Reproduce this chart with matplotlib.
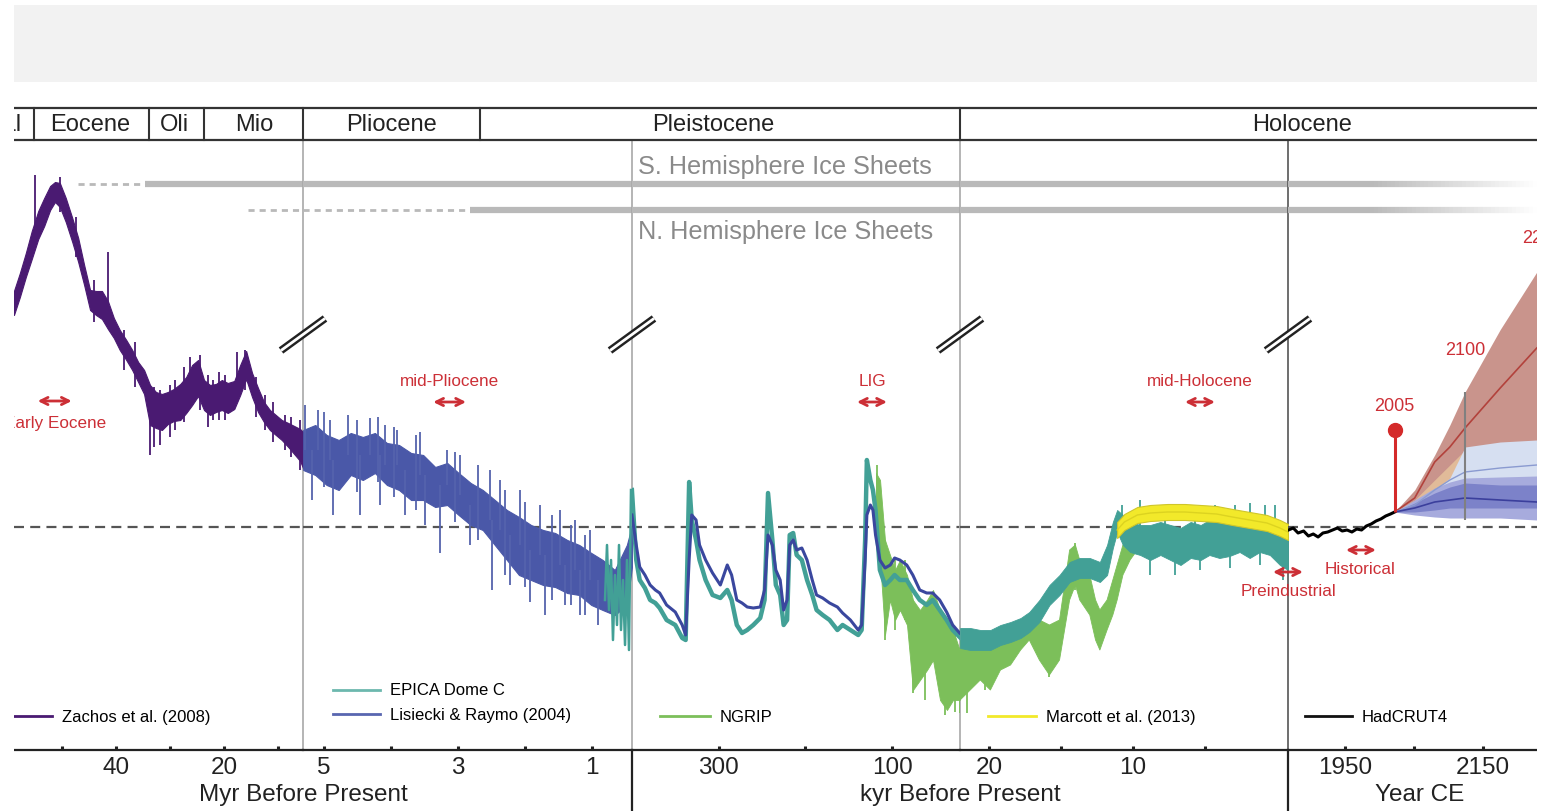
import numpy as np
import matplotlib
matplotlib.use("Agg")
import matplotlib.pyplot as plt
import matplotlib.transforms as mtransforms
from matplotlib.lines import Line2D
from matplotlib.patches import Rectangle
from matplotlib.collections import LineCollection

plt.rcParams['font.family'] = ['Liberation Sans', 'DejaVu Sans']

# ---------------- data (temperature anomaly, deg C) ----------------
# Zachos et al. (2008), Myr BP
zachos_age = [58.9, 57.8, 56.7, 55.6, 54.4, 53.3, 52.2, 51.3, 50.4, 49.3, 48.1, 47.0, 45.9, 44.8, 43.7,
              42.6, 41.5, 40.4, 39.3, 38.1, 37.0, 35.9, 34.8, 33.7, 32.6, 31.5, 30.4, 29.3, 28.1, 27.0,
              25.9, 24.8, 23.7, 22.6, 21.5, 20.4, 19.3, 18.1, 17.0, 15.9, 14.8, 13.7, 12.6, 11.5, 10.4,
              9.3, 8.1, 7.0, 5.9, 5.37]
zachos_hi = [9.44, 10.16, 10.96, 11.84, 12.64, 13.16, 13.64, 13.8, 13.76, 13.16, 12.36, 11.56, 10.48, 9.48,
             9.44, 9.44, 9.04, 8.36, 7.88, 7.48, 7.08, 6.6, 6.28, 5.68, 5.4, 5.32, 5.4, 5.52, 5.72, 6.0,
             6.48, 6.68, 5.88, 5.68, 5.72, 5.88, 5.76, 5.84, 6.48, 7.04, 6.16, 5.56, 5.0, 4.68, 4.48,
             4.28, 4.16, 4.04, 3.92, 3.8]
zachos_lo = [8.48, 9.2, 10.0, 10.72, 11.52, 12.04, 12.68, 13.0, 12.8, 12.2, 11.4, 10.6, 9.68, 8.68, 8.48,
             8.32, 7.92, 7.56, 7.08, 6.68, 6.28, 5.8, 5.32, 4.08, 3.96, 3.88, 4.12, 4.24, 4.28, 4.56,
             4.88, 5.24, 4.68, 4.48, 4.6, 4.68, 4.56, 4.72, 5.28, 5.92, 5.2, 4.6, 4.2, 3.88, 3.68,
             3.48, 3.2, 2.92, 2.64, 2.36]
zachos_sp_age = [55.0, 41.5, 33.7, 31.9, 29.1, 26.3, 24.4, 22.0, 19.8, 16.1, 12.4, 8.7, 5.9,
                 50.4, 47.5, 44.0, 38.5, 36.5, 33.0, 30.0, 27.5, 23.0, 21.0, 17.5, 14.0, 11.0, 7.5]
zachos_sp_top = [14.08, 11.0, 5.68, 5.48, 5.88, 6.8, 6.88, 5.88, 6.08, 7.08, 5.28, 4.48, 4.28,
                 14.0, 12.4, 9.9, 7.9, 7.4, 5.6, 5.7, 6.4, 6.1, 6.2, 7.0, 6.0, 5.0, 4.4]
zachos_sp_bot = [11.48, 8.68, 2.88, 3.28, 3.88, 4.88, 4.68, 4.28, 4.28, 5.48, 3.88, 3.08, 2.28,
                 12.6, 10.8, 8.2, 6.3, 5.6, 3.2, 3.6, 4.2, 4.0, 4.3, 5.0, 4.4, 3.4, 2.8]

# Lisiecki & Raymo (2004), Myr BP (band) and kyr BP (line)
lr_age = [5.31, 5.13, 4.96, 4.78, 4.60, 4.42, 4.24, 4.06, 3.88, 3.70, 3.52, 3.34, 3.16, 2.99, 2.81,
          2.63, 2.45, 2.27, 2.09, 1.91, 1.73, 1.55, 1.37, 1.19, 1.01, 0.84, 0.66, 0.48, 0.40]
lr_hi = [3.88, 4.08, 3.68, 3.48, 3.76, 3.6, 3.76, 3.36, 3.28, 2.96, 2.88, 2.4, 2.56, 2.16, 1.76,
         1.48, 1.08, 0.68, 0.4, 0.08, -0.12, -0.24, -0.52, -0.72, -1.04, -1.32, -1.72, -0.72, 0.08]
lr_lo = [2.28, 2.08, 1.68, 1.48, 2.08, 1.88, 2.16, 1.68, 1.48, 1.08, 1.08, 0.8, 0.88, 0.48, 0.08,
         -0.12, -0.72, -1.32, -1.92, -2.12, -2.32, -2.4, -2.64, -2.72, -3.12, -3.32, -3.52, -3.12, -1.52]
lr_sp_age = [5.28, 5.09, 4.91, 4.64, 4.31, 4.09, 3.91, 3.57, 3.16, 2.97, 2.52, 2.37, 2.07, 1.78, 1.48,
             1.25, 1.03, 5.18, 4.87, 4.46, 4.16, 3.79, 3.49, 3.27, 2.82, 2.49, 2.22, 1.93, 1.70, 1.40,
             1.18, 0.91, 5.0, 4.5, 4.2, 3.95, 3.62, 3.05, 2.7, 2.3, 2.0, 1.6, 1.32, 1.1]
lr_sp_top = [4.88, 4.68, 4.28, 4.48, 4.36, 4.08, 3.88, 3.8, 3.08, 2.88, 2.28, 1.88, 1.48, 0.88, 0.68,
             0.28, -0.12, 3.08, 2.68, 2.88, 2.88, 2.28, 2.08, 1.68, 0.88, 0.28, -0.32, -0.92, -1.12,
             -1.52, -1.72, -2.12, 4.6, 4.3, 4.4, 4.0, 3.7, 3.0, 2.5, 1.5, 1.0, 0.5, 0.1, -0.3]
lr_sp_bot = [3.08, 3.08, 2.68, 2.88, 2.88, 2.48, 2.48, 2.08, 1.68, 1.28, 0.28, -0.12, -0.72, -1.12,
             -1.52, -1.72, -2.12, 1.08, 0.48, 0.48, 0.88, 0.48, 0.08, -1.04, -0.72, -2.52, -2.32,
             -3.0, -3.52, -3.12, -3.52, -3.92, 1.6, 1.4, 1.8, 1.2, 0.7, 0.2, -0.5, -1.9, -2.4, -2.9,
             -3.1, -3.5]

kyr_age = [400, 395, 391, 385, 379, 373, 368, 360, 350, 342, 338, 334, 331, 326, 322, 315, 307, 298,
           290, 285, 279, 273, 267, 260, 252, 247, 243, 238, 234, 229, 225, 221, 218, 214, 210, 204,
           198, 192, 187, 180, 172, 163, 157, 148, 139, 135, 131, 129, 125, 122, 119, 114, 108, 102,
           97, 91, 83, 76, 68, 60, 53, 45, 37, 30, 22]
lr_kyr_T = [0.48, -0.72, -1.6, -1.92, -2.32, -2.52, -2.64, -3.12, -3.4, -3.92, -4.32, -1.32, 0.48, 0.28,
            -0.72, -1.32, -1.84, -2.32, -1.52, -1.92, -2.92, -3.04, -3.2, -3.24, -3.2, -2.52, -0.32,
            -0.72, -1.72, -2.12, -3.32, -2.92, -0.72, -0.52, -0.92, -0.84, -1.32, -2.12, -2.72, -2.84,
            -3.04, -3.2, -3.44, -3.72, -4.12, -3.92, -1.32, 0.48, 0.88, 0.68, -0.32, -1.32, -1.64,
            -1.52, -1.24, -1.32, -1.52, -1.92, -2.52, -2.64, -2.64, -2.92, -3.4, -3.92, -4.24]

# EPICA Dome C, kyr BP
epica_old_age = [806, 776, 746, 716, 687, 657, 627, 597, 567, 537, 507, 478, 448, 418]
epica_old_T = [-2.92, -0.72, -3.32, -1.32, -4.52, -1.92, -3.92, -0.72, -4.12, -2.12, -4.72, -1.32, -4.92, 1.48]
epica_kyr_T = [1.48, -1.32, -2.12, -2.44, -2.92, -3.04, -3.24, -3.72, -3.92, -4.44, -4.52, 1.8, 0.28,
               -0.52, -1.32, -2.12, -2.72, -2.84, -2.52, -2.92, -3.92, -4.24, -4.12, -3.92, -3.64,
               -2.92, 1.36, -0.52, -2.32, -2.72, -3.92, -3.72, -0.32, -0.24, -1.12, -1.32, -2.12,
               -2.72, -3.32, -3.52, -3.72, -4.12, -3.92, -4.12, -4.32, -4.12, -0.52, 2.68, 1.88, 1.48,
               0.68, -1.72, -2.32, -2.12, -1.92, -2.12, -2.12, -2.52, -2.92, -3.12, -2.92, -3.32,
               -3.72, -4.12, -4.4]
epica_h_age = [22.0, 21.3, 20.6, 19.9, 19.2, 18.5, 17.8, 17.2, 16.5, 15.8, 15.1, 14.4, 13.7, 13.0,
               12.3, 11.8, 11.4, 11.1, 10.7, 10.2, 9.5, 8.8, 8.1, 7.4, 6.7, 6.0, 5.3, 4.7, 4.0, 3.3,
               2.6, 1.9, 1.2, 0.5, -0.2, -0.76]
epica_h_hi = [-4.04, -4.04, -4.12, -4.12, -3.92, -3.8, -3.64, -3.4, -2.92, -2.32, -1.92, -1.4, -1.24,
              -1.24, -1.4, -0.72, 0.2, 0.68, 0.48, 0.2, 0.08, 0.08, 0.2, 0.08, -0.04, 0.2, 0.08, 0.28,
              0.2, 0.28, 0.36, 0.2, 0.36, 0.28, 0.08, -0.12]
epica_h_lo = [-4.84, -4.92, -4.92, -4.92, -4.72, -4.6, -4.44, -4.2, -3.8, -3.12, -2.72, -2.2, -2.04,
              -2.04, -2.2, -1.92, -0.84, -0.2, -0.72, -1.0, -1.12, -1.32, -1.12, -1.32, -1.52, -1.24,
              -1.32, -1.12, -1.24, -1.16, -1.0, -1.24, -1.0, -1.12, -1.52, -1.72]
epica_sp_age = [10.76, 9.51, 7.78, 5.69, 4.31, 2.92, 1.88, 0.83, 0.14, 8.82, 7.08, 5.35, 3.26, 1.18, -0.42]
epica_sp_top = [0.88, 1.08, 0.76, 0.68, 0.88, 0.88, 0.96, 0.88, 0.88, -0.12, -0.12, -0.12, 0.08, 0.08, -0.12]
epica_sp_bot = [-0.52, -0.52, -0.72, -0.72, -0.52, -0.52, -0.52, -0.52, -0.72, -1.92, -1.92, -1.72,
                -1.64, -1.52, -2.12]

# NGRIP, kyr BP
ng_age = [118.5, 113.8, 108.1, 102.3, 96.5, 90.8, 82.7, 75.8, 67.7, 59.6, 52.7, 44.6, 36.6, 29.6,
          22.0, 21.3, 20.6, 19.9, 19.2, 18.5, 17.8, 17.2, 16.5, 15.8, 15.1, 14.4, 14.0, 13.7, 13.0,
          12.6, 12.3, 11.8, 11.4, 11.1, 10.7, 10.2, 9.7]
ng_hi = [2.16, 1.88, -0.52, -1.12, -1.72, -1.32, -1.92, -2.92, -3.32, -2.92, -2.52, -3.32, -3.72, -4.12,
         -4.92, -4.52, -4.52, -4.72, -4.32, -4.12, -3.72, -3.52, -3.72, -3.92, -3.72, -0.92, -0.72,
         -1.32, -1.92, -2.92, -3.32, -2.92, -2.12, -1.52, -0.72, -0.32, -0.12]
ng_lo = [0.28, -1.32, -4.32, -2.92, -3.72, -3.32, -3.92, -6.52, -6.12, -5.72, -5.32, -6.92, -7.32, -6.92,
         -6.92, -6.52, -6.12, -6.52, -5.72, -5.52, -4.92, -4.52, -5.32, -5.92, -5.32, -2.92, -2.32,
         -2.92, -3.52, -4.52, -4.92, -4.12, -3.52, -2.92, -1.92, -1.32, -0.92]
ng_sp_age = [108, 75.8, 62, 39, 27, 21.5, 20.3, 15.8, 14.0, 117, 96.5, 85]
ng_sp_top = [-0.52, -2.92, -3.32, -3.72, -4.12, -4.92, -4.52, -3.92, -0.64, 2.48, -1.32, -1.32]
ng_sp_bot = [-4.52, -6.64, -6.92, -7.52, -7.4, -7.44, -6.52, -6.0, -2.52, 0.28, -4.12, -3.72]

# Marcott et al. (2013), kyr BP
mc_age = [11.1, 10.6, 9.7, 8.8, 7.6, 6.4, 5.3, 4.2, 3.1, 1.9, 0.7, -0.2, -0.76]
mc_mid = [-0.12, 0.2, 0.48, 0.56, 0.6, 0.6, 0.56, 0.52, 0.4, 0.28, 0.16, -0.04, -0.2]
mc_hi = [0.2, 0.52, 0.8, 0.88, 0.92, 0.92, 0.88, 0.84, 0.72, 0.6, 0.48, 0.28, 0.12]
mc_lo = [-0.44, -0.12, 0.16, 0.24, 0.28, 0.28, 0.24, 0.2, 0.08, -0.04, -0.16, -0.36, -0.52]

# HadCRUT4, year CE
had_year = [1868, 1875, 1882, 1890, 1897, 1904, 1911, 1918, 1925, 1932, 1939, 1946, 1953, 1960, 1967,
            1974, 1981, 1988, 1995, 2002, 2009, 2016, 2022]
had_T = [-0.12, -0.04, -0.24, -0.16, -0.36, -0.28, -0.4, -0.24, -0.2, -0.12, -0.04, -0.16, -0.12, -0.2,
         -0.08, -0.12, 0.04, 0.12, 0.24, 0.32, 0.44, 0.52, 0.6]

# projections, year CE
proj_year = [2022, 2051, 2080, 2102, 2124, 2175, 2228]
rcp85_hi = [0.6, 1.48, 2.88, 4.08, 5.4, 7.9, 10.2]
rcp85_mid = [0.6, 1.16, 2.6, 3.2, 3.96, 5.56, 7.16]
rcp85_lo = [0.6, 0.88, 1.28, 1.56, 1.8, 1.8, 1.76]
peach_year = [2022, 2051, 2080, 2102, 2124]
peach_hi = [0.6, 1.08, 1.88, 2.48, 3.08]
peach_lo = [0.6, 0.88, 1.28, 1.56, 1.8]
lb_hi = [0.6, 0.96, 1.48, 1.96, 3.2, 3.4, 3.48]
lb_lo = [0.6, 0.68, 0.88, 1.08, 1.48, 1.48, 1.48]
lb_mid = [0.6, 0.88, 1.48, 1.88, 2.2, 2.36, 2.48]
lav_hi = [0.6, 1.08, 1.56, 1.8, 1.96, 2.0, 2.04]
lav_lo = [0.6, 0.48, 0.4, 0.36, 0.36, 0.36, 0.28]
db_hi = [0.6, 0.96, 1.36, 1.6, 1.76, 1.68, 1.68]
db_lo = [0.6, 0.6, 0.68, 0.76, 0.76, 0.76, 0.76]
db_mid = [0.6, 0.76, 1.0, 1.08, 1.16, 1.08, 1.0]
event_2005 = (2022, 0.6, 3.88)
event_2100 = (2124, 0.3, 5.4)

# ice sheets (Myr BP / year CE)
ice_S_T, ice_N_T = 13.72, 12.68
ice_S_dash, ice_S_solid = 47.0, 34.6
ice_N_dash, ice_N_solid = 15.6, 2.82
ice_fade = (1986, 2228.3)

# epochs
epoch_bounds = [(0, 55.2), (0, 33.9), (0, 23.7), (0, 5.37), (1, 2.67), (2, 21.6)]
epoch_labels = [("Pal", 0, 60.7), ("Eocene", 0, 44.8), ("Oli", 0, 29.1), ("Mio", 0, 14.4),
                ("Pliocene", 1, 3.99), ("Pleistocene", 2, 306), ("Holocene", 4, 1887.7)]

# colours
c_zachos = '#4a1a72'
c_lr = '#4a58a8'
c_lr_line = '#3a479e'
c_epica = '#42a096'
c_ngrip = '#7cbf5a'
c_marcott = '#f2e92a'
red = '#cc2f36'

# ---------------- figure ----------------
W, H = 1547, 811
fig = plt.figure(figsize=(W / 100, H / 100), dpi=100)
fig.patch.set_facecolor('white')


def box(x0, x1, y0, y1):
    return [x0 / W, 1 - y1 / H, (x1 - x0) / W, (y1 - y0) / H]


fig.add_artist(Rectangle((14 / W, 1 - 82 / H), 1523 / W, 77 / H, transform=fig.transFigure,
                         facecolor='#f2f2f2', edgecolor='none', zorder=0))

edges = [14, 303, 632, 960, 1288, 1537]
xlims = [(58.89, 5.37), (5.313, 0.403), (399.9, 21.57), (22.01, -0.76), (1867.4, 2228.3)]
ylim = (-8.92, 15.48)
majors = [[40, 20], [5, 3, 1], [300, 100], [20, 10], [1950, 2150]]
minors = [[50, 30, 10], [4, 2], [200], [15, 5], [2050]]
right_col = ['#a8a8a8', '#a8a8a8', '#a8a8a8', '#555555', None]

axes = []
for i in range(5):
    ax = fig.add_axes(box(edges[i], edges[i + 1], 140, 750))
    ax.set_xlim(*xlims[i])
    ax.set_ylim(*ylim)
    ax.patch.set_alpha(0)
    ax.set_yticks([])
    ax.set_xticks(majors[i])
    ax.set_xticklabels([str(v) for v in majors[i]])
    ax.set_xticks(minors[i], minor=True)
    ax.tick_params(axis='x', which='both', direction='in', length=3, width=2.2, color='#222',
                   labelsize=17.5, pad=5, labelcolor='#222')
    for s in ['top', 'left']:
        ax.spines[s].set_visible(False)
    ax.spines['bottom'].set_linewidth(1.6)
    ax.spines['bottom'].set_color('#222')
    if right_col[i]:
        ax.spines['right'].set_color(right_col[i])
        ax.spines['right'].set_linewidth(1.2)
    else:
        ax.spines['right'].set_visible(False)
    ax.axhline(0, color='#555555', lw=1.6, dashes=(4.5, 2.8), zorder=1)
    axes.append(ax)

a1, a2, a3, a4, a5 = axes

# ice sheets
ice_c = '#b9b9b9'
a1.plot([ice_S_dash, ice_S_solid], [ice_S_T] * 2, color=ice_c, lw=2, dashes=(2.2, 1.8), zorder=1)
a1.hlines(ice_S_T, ice_S_solid, xlims[0][1], color=ice_c, lw=4.5, zorder=1)
a1.plot([ice_N_dash, xlims[0][1]], [ice_N_T] * 2, color=ice_c, lw=2, dashes=(2.2, 1.8), zorder=1)
a2.plot([xlims[1][0], ice_N_solid], [ice_N_T] * 2, color=ice_c, lw=2, dashes=(2.2, 1.8), zorder=1)
a2.hlines(ice_N_T, ice_N_solid, xlims[1][1], color=ice_c, lw=4.5, zorder=1)
a2.hlines(ice_S_T, *xlims[1], color=ice_c, lw=4.5, zorder=1)
for ax in (a3, a4):
    ax.axhline(ice_S_T, color=ice_c, lw=4.5, zorder=1)
    ax.axhline(ice_N_T, color=ice_c, lw=4.5, zorder=1)
fx = np.linspace(ice_fade[0], ice_fade[1], 41)
rgb = matplotlib.colors.to_rgb(ice_c)
for T in (ice_S_T, ice_N_T):
    a5.hlines(T, xlims[4][0], ice_fade[0], color=ice_c, lw=4.5, zorder=1)
    segs = [[(fx[k], T), (fx[k + 1], T)] for k in range(40)]
    cols = [(*rgb, 1 - (k + 0.5) / 40) for k in range(40)]
    a5.add_collection(LineCollection(segs, colors=cols, linewidths=4.5, capstyle='butt', zorder=1))
a3.text(393, 14.4, 'S. Hemisphere Ice Sheets', fontsize=18.2, color='#8a8a8a', ha='left', va='center')
a3.text(393, 11.8, 'N. Hemisphere Ice Sheets', fontsize=18.2, color='#8a8a8a', ha='left', va='center')

# Zachos
a1.fill_between(zachos_age, zachos_lo, zachos_hi, color=c_zachos, lw=0.8, zorder=3)
a1.vlines(zachos_sp_age, zachos_sp_bot, zachos_sp_top, color=c_zachos, lw=1.3, zorder=3)

# Lisiecki & Raymo
a2.fill_between(lr_age, lr_lo, lr_hi, color=c_lr, lw=0.8, zorder=3)
a2.vlines(lr_sp_age, lr_sp_bot, lr_sp_top, color='#5563ad', lw=1.3, zorder=3)
a3.plot(kyr_age, lr_kyr_T, color=c_lr_line, lw=2.2, zorder=5)

# EPICA
a2.plot(np.array(epica_old_age) / 1000.0, epica_old_T, color=c_epica, lw=1.8, zorder=4)
a3.plot(kyr_age, epica_kyr_T, color=c_epica, lw=3.2, zorder=4)
a4.fill_between(epica_h_age, epica_h_lo, epica_h_hi, color=c_epica, lw=0.6, zorder=4)
a4.vlines(epica_sp_age, epica_sp_bot, epica_sp_top, color=c_epica, lw=1.3, zorder=4)

# NGRIP
for ax in (a3, a4):
    ax.fill_between(ng_age, ng_lo, ng_hi, color=c_ngrip, lw=0.6, zorder=3)
    ax.vlines(ng_sp_age, ng_sp_bot, ng_sp_top, color=c_ngrip, lw=1.3, zorder=3)

# Marcott
a4.fill_between(mc_age, mc_lo, mc_hi, color=c_marcott, edgecolor='#cfc62a', lw=0.8, zorder=6)
a4.plot(mc_age, mc_mid, color='#dcd320', lw=1.0, zorder=6)

# HadCRUT4
a5.plot(had_year, had_T, color='black', lw=2.2, zorder=6)

# projections
a5.fill_between(proj_year, rcp85_lo, rcp85_hi, color='#c9948c', lw=0, zorder=2)
a5.fill_between(peach_year, peach_lo, peach_hi, color='#e6c39c', lw=0, alpha=0.85, zorder=2.1)
a5.fill_between(proj_year, lb_lo, lb_hi, color='#d6dff1', lw=0, zorder=2.2)
a5.fill_between(proj_year, lav_lo, lav_hi, color='#a7abdd', lw=0, zorder=2.3)
a5.fill_between(proj_year, db_lo, db_hi, color='#7c82c9', lw=0, zorder=2.4)
a5.plot(proj_year, rcp85_mid, color='#b2423c', lw=1.2, zorder=2.6)
a5.plot(proj_year, lb_mid, color='#8a9ad0', lw=1.0, zorder=2.6)
a5.plot(proj_year, db_mid, color='#3b3f9c', lw=1.2, zorder=2.6)
a5.vlines(event_2100[0], event_2100[1], event_2100[2], color='#808080', lw=1.5, zorder=2.7)
a5.vlines(event_2005[0], event_2005[1], event_2005[2], color='#d42a2a', lw=2.2, zorder=7)
a5.plot([event_2005[0]], [event_2005[2]], 'o', color='#d42a2a', ms=10, zorder=7)
a5.text(2021, 4.84, '2005', color=red, fontsize=13, ha='center', va='center')
a5.text(2125, 7.08, '2100', color=red, fontsize=13, ha='center', va='center')
a5.text(2206.5, 11.56, '2200', color=red, fontsize=13, ha='left', va='center', clip_on=True)


# period annotations
def arrow(ax, x1, x2, T):
    ax.annotate('', xy=(x2, T), xytext=(x1, T), annotation_clip=False,
                arrowprops=dict(arrowstyle='<->', color=red, lw=2, shrinkA=0, shrinkB=0,
                                mutation_scale=13))


periods = [(a1, 'Early Eocene', 51.3, 4.16, 54.5, 48.2, 5.04),
           (a2, 'mid-Pliocene', 3.12, 5.84, 3.37, 2.88, 5.0),
           (a3, 'LIG', 123, 5.84, 140.4, 105.8, 5.0),
           (a4, 'mid-Holocene', 5.35, 5.84, 6.39, 4.31, 5.0),
           (a5, 'Historical', 1971.7, -1.72, 1951.4, 1994.9, -0.92),
           (a5, 'Preindustrial', 1867.4, -2.6, 1845.6, 1889.1, -1.8)]
for ax, name, xl, yl, x1, x2, ya in periods:
    ax.text(xl, yl, name, color=red, fontsize=12.3, ha='center', va='center')
    arrow(ax, x1, x2, ya)


# break marks on panel boundaries
def draw_break(ax, T=7.7):
    trans = mtransforms.blended_transform_factory(ax.transAxes, ax.transData)
    px, py = trans.transform((1, T))
    for lw, c in ((5.5, '#222222'), (2.0, 'white')):
        fig.add_artist(Line2D([px - 22, px + 22], [py - 16, py + 16], transform=mtransforms.IdentityTransform(),
                              color=c, lw=lw, solid_capstyle='butt', zorder=5))


for ax in (a1, a2, a3, a4):
    draw_break(ax)

# epoch bar
ax_ep = fig.add_axes(box(14, 1537, 108, 140))
ax_ep.set_xlim(0, 1)
ax_ep.set_ylim(0, 1)
ax_ep.set_xticks([])
ax_ep.set_yticks([])
ax_ep.patch.set_alpha(0)
for s in ['left', 'right']:
    ax_ep.spines[s].set_visible(False)
for s in ['top', 'bottom']:
    ax_ep.spines[s].set_linewidth(1.6)
    ax_ep.spines[s].set_color('#333333')
for pi, age in epoch_bounds:
    tr = mtransforms.blended_transform_factory(axes[pi].transData, ax_ep.transAxes)
    ax_ep.plot([age, age], [0, 1], transform=tr, color='#333333', lw=1.5, clip_on=False)
for name, pi, age in epoch_labels:
    tr = mtransforms.blended_transform_factory(axes[pi].transData, ax_ep.transAxes)
    ax_ep.text(age, 0.47, name, transform=tr, ha='center', va='center', fontsize=17, color='#222')

# axis titles and lower separators
a1.text(1.0, -0.074, 'Myr Before Present', transform=a1.transAxes, ha='center', va='center',
        fontsize=17.5, color='#222')
a3.text(1.0, -0.074, 'kyr Before Present', transform=a3.transAxes, ha='center', va='center',
        fontsize=17.5, color='#222')
a5.text(0.53, -0.074, 'Year CE', transform=a5.transAxes, ha='center', va='center', fontsize=17.5,
        color='#222')
for ax in (a2, a4):
    ax.plot([1, 1], [0, -0.11], transform=ax.transAxes, color='#222', lw=1.6, clip_on=False)

# legends
leg_specs = [
    (a1, [('Zachos et al. (2008)', c_zachos)], 0.0, 0.054, 2.3),
    (a2, [('EPICA Dome C', '#6cb8ae'), ('Lisiecki & Raymo (2004)', '#5866b0')], 0.091, 0.077, 2.8),
    (a3, [('NGRIP', c_ngrip)], 0.085, 0.054, 3.0),
    (a4, [('Marcott et al. (2013)', c_marcott)], 0.085, 0.054, 2.9),
    (a5, [('HadCRUT4', '#111111')], 0.068, 0.054, 2.8),
]
for ax, items, lx, ly, hl in leg_specs:
    handles = [Line2D([], [], color=c, lw=2) for _, c in items]
    labels = [n for n, _ in items]
    ax.legend(handles, labels, loc='center left', bbox_to_anchor=(lx, ly), frameon=False,
              fontsize=12, handlelength=hl, handletextpad=0.6, borderpad=0, borderaxespad=0,
              labelspacing=0.55)

# crop masks
fig.add_artist(Rectangle((0, 0), 14 / W, 1, transform=fig.transFigure, facecolor='white',
                         edgecolor='none', zorder=50))
fig.add_artist(Rectangle((1537 / W, 0), 10 / W, 1, transform=fig.transFigure, facecolor='white',
                         edgecolor='none', zorder=50))

fig.savefig('out.png', dpi=100)
